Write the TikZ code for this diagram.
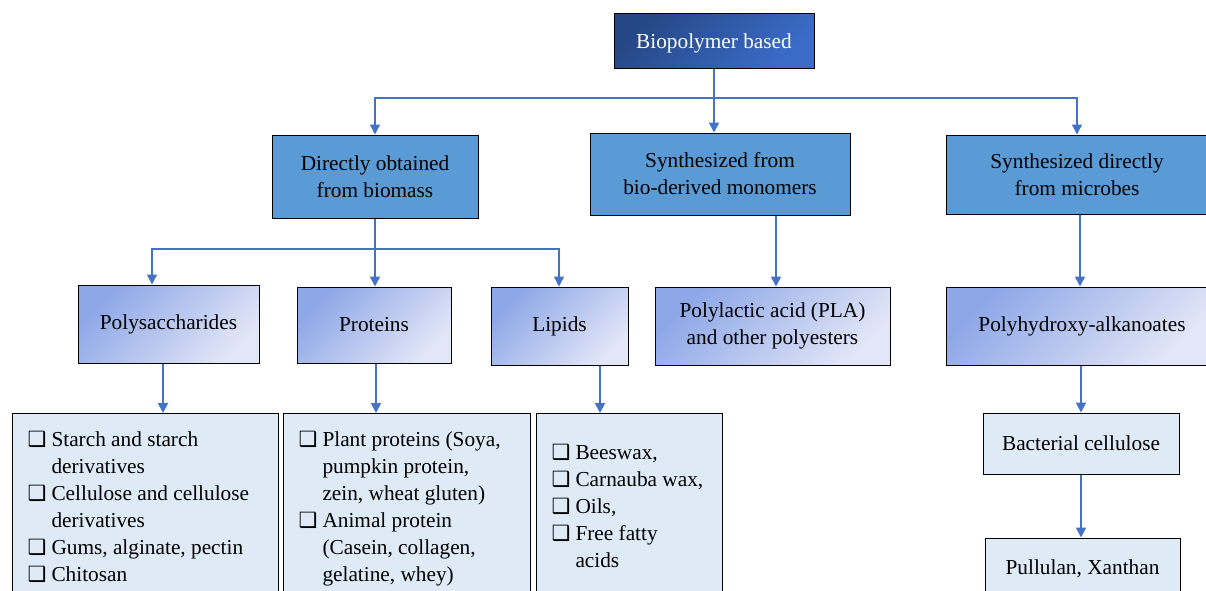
\documentclass[tikz,border=0pt]{standalone}
\usepackage{fontspec}
\setmainfont{Liberation Serif}
\newfontfamily\dejavu{DejaVu Sans}
\usetikzlibrary{arrows.meta}
\definecolor{lineblue}{HTML}{4472C4}
\definecolor{midblue}{HTML}{5B9BD5}
\definecolor{darkA}{HTML}{264785}
\definecolor{darkB}{HTML}{3A6CC8}
\definecolor{lightA}{HTML}{8DA7E7}
\definecolor{lightB}{HTML}{E2E6F7}
\definecolor{paleblue}{HTML}{DEEAF6}
\newcommand{\sqbox}{\makebox[24pt][l]{\strut{\dejavu\fontsize{21}{21}\selectfont ❑}}}
\newcommand{\litem}[1]{\par\noindent\hangindent=24pt\hangafter=1\sqbox#1\par}
\newcommand{\blist}[3]{\begin{minipage}[t][#2][t]{#1}\raggedright #3\end{minipage}}
\begin{document}
\begin{tikzpicture}[x=1pt, y=-1pt,
    every node/.style={rectangle, inner sep=0, font=\fontsize{21.3}{27}\selectfont},
    topbox/.style={draw, line width=1pt, top color=darkA, bottom color=darkB, shading angle=45, text=white, align=center},
    midbox/.style={draw, line width=1pt, fill=midblue, align=center},
    gradbox/.style={draw, line width=1pt, top color=lightA, bottom color=lightB, shading angle=45, align=center},
    palebox/.style={draw, line width=1pt, fill=paleblue, align=center},
    listbox/.style={draw, line width=1pt, fill=paleblue, anchor=north west, inner xsep=15pt},
    arr/.style={-{Triangle[width=10pt,length=10pt]}, draw=lineblue, line width=1.8pt},
    branch/.style={arr, line width=1.3pt}]

    \useasboundingbox (0,0) rectangle (1206,590);
    \clip (0,0) rectangle (1206,590);

    % top level
    \node (bio) at (714,40.5) [topbox, minimum width=200pt, minimum height=55pt] {\raisebox{-3pt}[\height][\depth]{Biopolymer based}};

    % second level
    \node (direct) at (375,176.5) [midbox, minimum width=206pt, minimum height=83pt] {Directly obtained\\from biomass};
    \node (mono) at (720,174) [midbox, minimum width=260pt, minimum height=82pt] {Synthesized from\\bio-derived monomers};
    \node (microbe) at (1077,174.5) [midbox, minimum width=262pt, minimum height=79pt] {Synthesized directly\\from microbes};

    % third level
    \node (poly) at (168.5,324) [gradbox, minimum width=181pt, minimum height=78pt] {Polysaccharides};
    \node (prot) at (374,325) [gradbox, minimum width=154pt, minimum height=76pt] {Proteins};
    \node (lip) at (559.5,326) [gradbox, minimum width=137pt, minimum height=78pt] {Lipids};
    \node (pla) at (772.5,326) [gradbox, minimum width=235pt, minimum height=78pt] {Polylactic acid (PLA)\\and other polyesters};
    \node (pha) at (1077,326) [gradbox, minimum width=262pt, minimum height=78pt] {\hspace*{10pt}Polyhydroxy-alkanoates};

    % lists
    \node (polyl) at (12,413) [listbox, inner ysep=14pt] {\blist{236pt}{170pt}{%
        \litem{Starch and starch\newline derivatives}
        \litem{Cellulose and cellulose\newline derivatives}
        \litem{Gums, alginate, pectin}
        \litem{Chitosan}}};
    \node (protl) at (283,413) [listbox, inner ysep=14pt] {\blist{217pt}{170pt}{%
        \litem{Plant proteins (Soya,\newline pumpkin protein,\newline zein, wheat gluten)}
        \litem{Animal protein\newline (Casein, collagen,\newline gelatine, whey)}}};
    \node (lipl) at (536,413) [listbox, inner ysep=27pt] {\blist{156pt}{150pt}{%
        \litem{Beeswax,}
        \litem{Carnauba wax,}
        \litem{Oils,}
        \litem{Free fatty\newline acids}}};
    \node (bc) at (1081,443.5) [palebox, minimum width=196pt, minimum height=61pt] {Bacterial cellulose};
    \node (pull) at (1082.5,569) [palebox, minimum width=195pt, minimum height=62pt] {Pullulan, Xanthan};

    % connectors
    \coordinate (tb) at (714,98);
    \coordinate (db) at (375,249);
    \draw[arr] (bio.south) -- (bio.south |- mono.north);
    \draw[branch] (tb) -| (direct.north);
    \draw[branch] (tb) -| (microbe.north);
    \draw[arr] (direct.south) -- (direct.south |- prot.north);
    \draw[branch] (db) -| ([xshift=-16.5pt]poly.north);
    \draw[branch] (db) -| ([xshift=-0.5pt]lip.north);
    \draw[arr] ([xshift=-5.5pt]poly.south) -- ([xshift=-5.5pt]poly.south |- polyl.north);
    \draw[arr] ([xshift=2pt]prot.south) -- ([xshift=2pt]prot.south |- protl.north);
    \draw[arr] ([xshift=40.5pt]lip.south) -- ([xshift=40.5pt]lip.south |- lipl.north);
    \draw[arr] ([xshift=3.5pt]pla.north |- mono.south) -- ([xshift=3.5pt]pla.north);
    \draw[arr] ([xshift=3pt]pha.north |- microbe.south) -- ([xshift=3pt]pha.north);
    \draw[arr] (bc.north |- pha.south) -- (bc.north);
    \draw[arr] (bc.south) -- (bc.south |- pull.north);
\end{tikzpicture}
\end{document}
